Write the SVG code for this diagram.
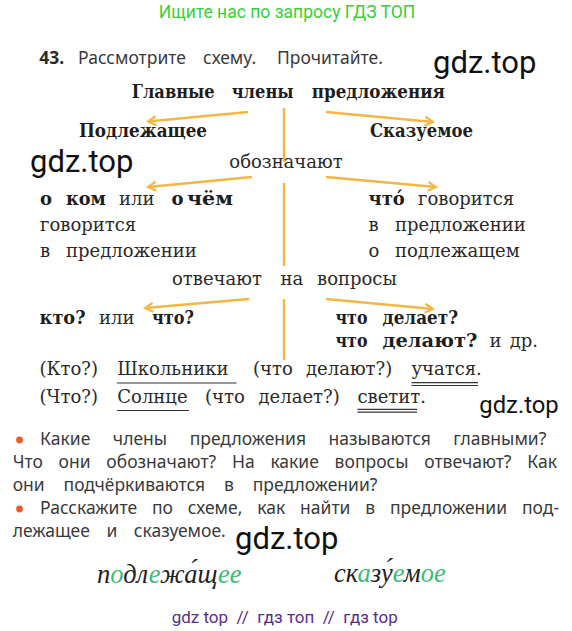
<svg xmlns="http://www.w3.org/2000/svg" width="572" height="631" viewBox="0 0 572 631">
<defs>
<style>
.s{font-family:"DejaVu Serif","Liberation Serif",serif;font-size:18px;fill:#2a2a2a}
.b{font-weight:bold;fill:#1e1e1e}
.ns{font-family:"Noto Sans","Open Sans",sans-serif;font-size:17.5px;fill:#3a3a3a}
.wm{font-family:"Roboto","Liberation Sans",sans-serif;fill:#111}
.ar{stroke:#f4b746;stroke-width:2.5;fill:none}
.ul{stroke:#333;stroke-width:1.2}
.hw{font-family:"Liberation Serif",serif;font-style:italic;font-size:26.5px;fill:#222}
.g{fill:#3dba7a}
</style>
<marker id="ah" markerWidth="12" markerHeight="12" refX="9" refY="6" orient="auto" markerUnits="userSpaceOnUse">
<path d="M1,1.5 L9,6 L1,10.5" stroke="#f4b746" stroke-width="2.2" fill="none"/>
</marker>
</defs>
<rect width="572" height="631" fill="#fff"/>
<text x="287" y="18.3" text-anchor="middle" font-family="Roboto,'Liberation Sans',sans-serif" font-size="17.5" fill="#3ccc3c">Ищите нас по запросу ГДЗ ТОП</text>
<text class="ns" x="39.3" y="64.3"><tspan font-weight="bold" fill="#2a2a2a">43.</tspan><tspan x="78">Рассмотрите</tspan><tspan x="203">схему.</tspan><tspan x="277">Прочитайте.</tspan></text>
<text class="wm" x="433" y="73" font-size="31">gdz.top</text>
<g id="connectors">
<path class="ar" d="M248,112 L148,121.5" marker-end="url(#ah)"/>
<path class="ar" d="M326,112 L433,122" marker-end="url(#ah)"/>
<path class="ar" d="M284,108 V162"/>
<path class="ar" d="M252,177 L148,187" marker-end="url(#ah)"/>
<path class="ar" d="M326,177 L436,187" marker-end="url(#ah)"/>
<path class="ar" d="M284,183 V266"/>
<path class="ar" d="M249,299 L145,308" marker-end="url(#ah)"/>
<path class="ar" d="M326,299 L433,309" marker-end="url(#ah)"/>
<path class="ar" d="M284,299 V360"/>
</g>
<g id="main"><text class="s b" y="98.3"><tspan x="131.7" textLength="83" lengthAdjust="spacingAndGlyphs">Главные</tspan><tspan x="231.7" textLength="62" lengthAdjust="spacingAndGlyphs">члены</tspan><tspan x="311.7" textLength="133.3" lengthAdjust="spacingAndGlyphs">предложения</tspan></text></g>
<g id="subject"><text class="s b" x="79" y="136.7" textLength="128" lengthAdjust="spacingAndGlyphs">Подлежащее</text></g>
<g id="predicate"><text class="s b" x="370" y="136.7" textLength="103" lengthAdjust="spacingAndGlyphs">Сказуемое</text></g>
<text class="wm" x="30" y="171.7" font-size="31">gdz.top</text>
<g id="mean"><text class="s" x="229.3" y="168.3">обозначают</text></g>
<g id="subject-mean">
<text class="s" y="205"><tspan class="b" x="40">о</tspan><tspan class="b" x="66" textLength="40" lengthAdjust="spacingAndGlyphs">ком</tspan><tspan x="119">или</tspan><tspan class="b" x="171.6">о</tspan><tspan class="b" x="187" textLength="46" lengthAdjust="spacingAndGlyphs">чём</tspan></text>
<text class="s" x="40" y="231">говорится</text>
<text class="s" y="257"><tspan x="40">в</tspan><tspan x="66">предложении</tspan></text>
</g>
<g id="predicate-mean">
<text class="s" y="205"><tspan class="b" x="368.5">что́</tspan><tspan x="418">говорится</tspan></text>
<text class="s" y="231"><tspan x="368.5">в</tspan><tspan x="395">предложении</tspan></text>
<text class="s" y="257"><tspan x="368.5">о</tspan><tspan x="395">подлежащем</tspan></text>
</g>
<g id="answer"><text class="s" y="285"><tspan x="172">отвечают</tspan><tspan x="280.5">на</tspan><tspan x="317">вопросы</tspan></text></g>
<g id="subject-q"><text class="s" y="324"><tspan class="b" x="39.6" textLength="46" lengthAdjust="spacingAndGlyphs">кто?</tspan><tspan x="99">или</tspan><tspan class="b" x="152" textLength="42" lengthAdjust="spacingAndGlyphs">что?</tspan></text></g>
<g id="predicate-q">
<text class="s b" y="324"><tspan x="335.5" textLength="32" lengthAdjust="spacingAndGlyphs">что</tspan><tspan x="382.5" textLength="75.5" lengthAdjust="spacingAndGlyphs">делает?</tspan></text>
<text class="s" y="347"><tspan class="b" x="335.5" textLength="32" lengthAdjust="spacingAndGlyphs">что</tspan><tspan class="b" x="382.5" textLength="95" lengthAdjust="spacingAndGlyphs">делают?</tspan><tspan x="489.5">и</tspan><tspan x="509.7">др.</tspan></text>
</g>
<g id="examples">
<text class="s" y="375"><tspan x="39.6">(Кто?)</tspan><tspan x="117.3">Школьники</tspan><tspan x="253">(что</tspan><tspan x="306">делают?)</tspan><tspan x="411.5">учатся.</tspan></text>
<text class="s" y="403.3"><tspan x="39.6">(Что?)</tspan><tspan x="117.3">Солнце</tspan><tspan x="205">(что</tspan><tspan x="258.5">делает?)</tspan><tspan x="357.5">светит.</tspan></text>
<line class="ul" x1="117" y1="383" x2="236.5" y2="383"/>
<line class="ul" x1="411.5" y1="382.7" x2="478" y2="382.7"/>
<line class="ul" x1="411.5" y1="385.5" x2="478" y2="385.5"/>
<line class="ul" x1="117" y1="410.5" x2="189" y2="410.5"/>
<line class="ul" x1="357.5" y1="409.3" x2="417" y2="409.3"/>
<line class="ul" x1="357.5" y1="412.2" x2="417" y2="412.2"/>
</g>
<text class="wm" x="479.3" y="413.3" font-size="23.8">gdz.top</text>
<g id="questions">
<circle cx="19.5" cy="440" r="3.4" fill="#f05a28"/>
<text class="ns" x="40" y="445" word-spacing="18">Какие члены предложения называются главными?</text>
<text class="ns" x="12.7" y="468" word-spacing="11.2">Что они обозначают? На какие вопросы отвечают? Как</text>
<text class="ns" x="12.7" y="491" word-spacing="14.3">они подчёркиваются в предложении?</text>
<circle cx="19.5" cy="509" r="3.4" fill="#f05a28"/>
<text class="ns" x="40" y="514" word-spacing="10.3">Расскажите по схеме, как найти в предложении под-</text>
<text class="ns" x="12.7" y="537" word-spacing="12">лежащее и сказуемое.</text>
</g>
<text class="wm" x="235" y="549" font-size="31">gdz.top</text>
<g id="handwriting">
<text class="hw" x="97" y="583">п<tspan class="g">о</tspan>дл<tspan class="g">е</tspan>жа́щ<tspan class="g">ее</tspan></text>
<text class="hw" x="334" y="582">ск<tspan class="g">а</tspan>зу́<tspan class="g">е</tspan>м<tspan class="g">ое</tspan></text>
</g>
<text x="171.7" y="623.3" xml:space="preserve" font-family="Roboto,'Liberation Sans',sans-serif" font-size="17" fill="#5a2d91">gdz top  //  гдз топ  //  гдз top</text>
</svg>
